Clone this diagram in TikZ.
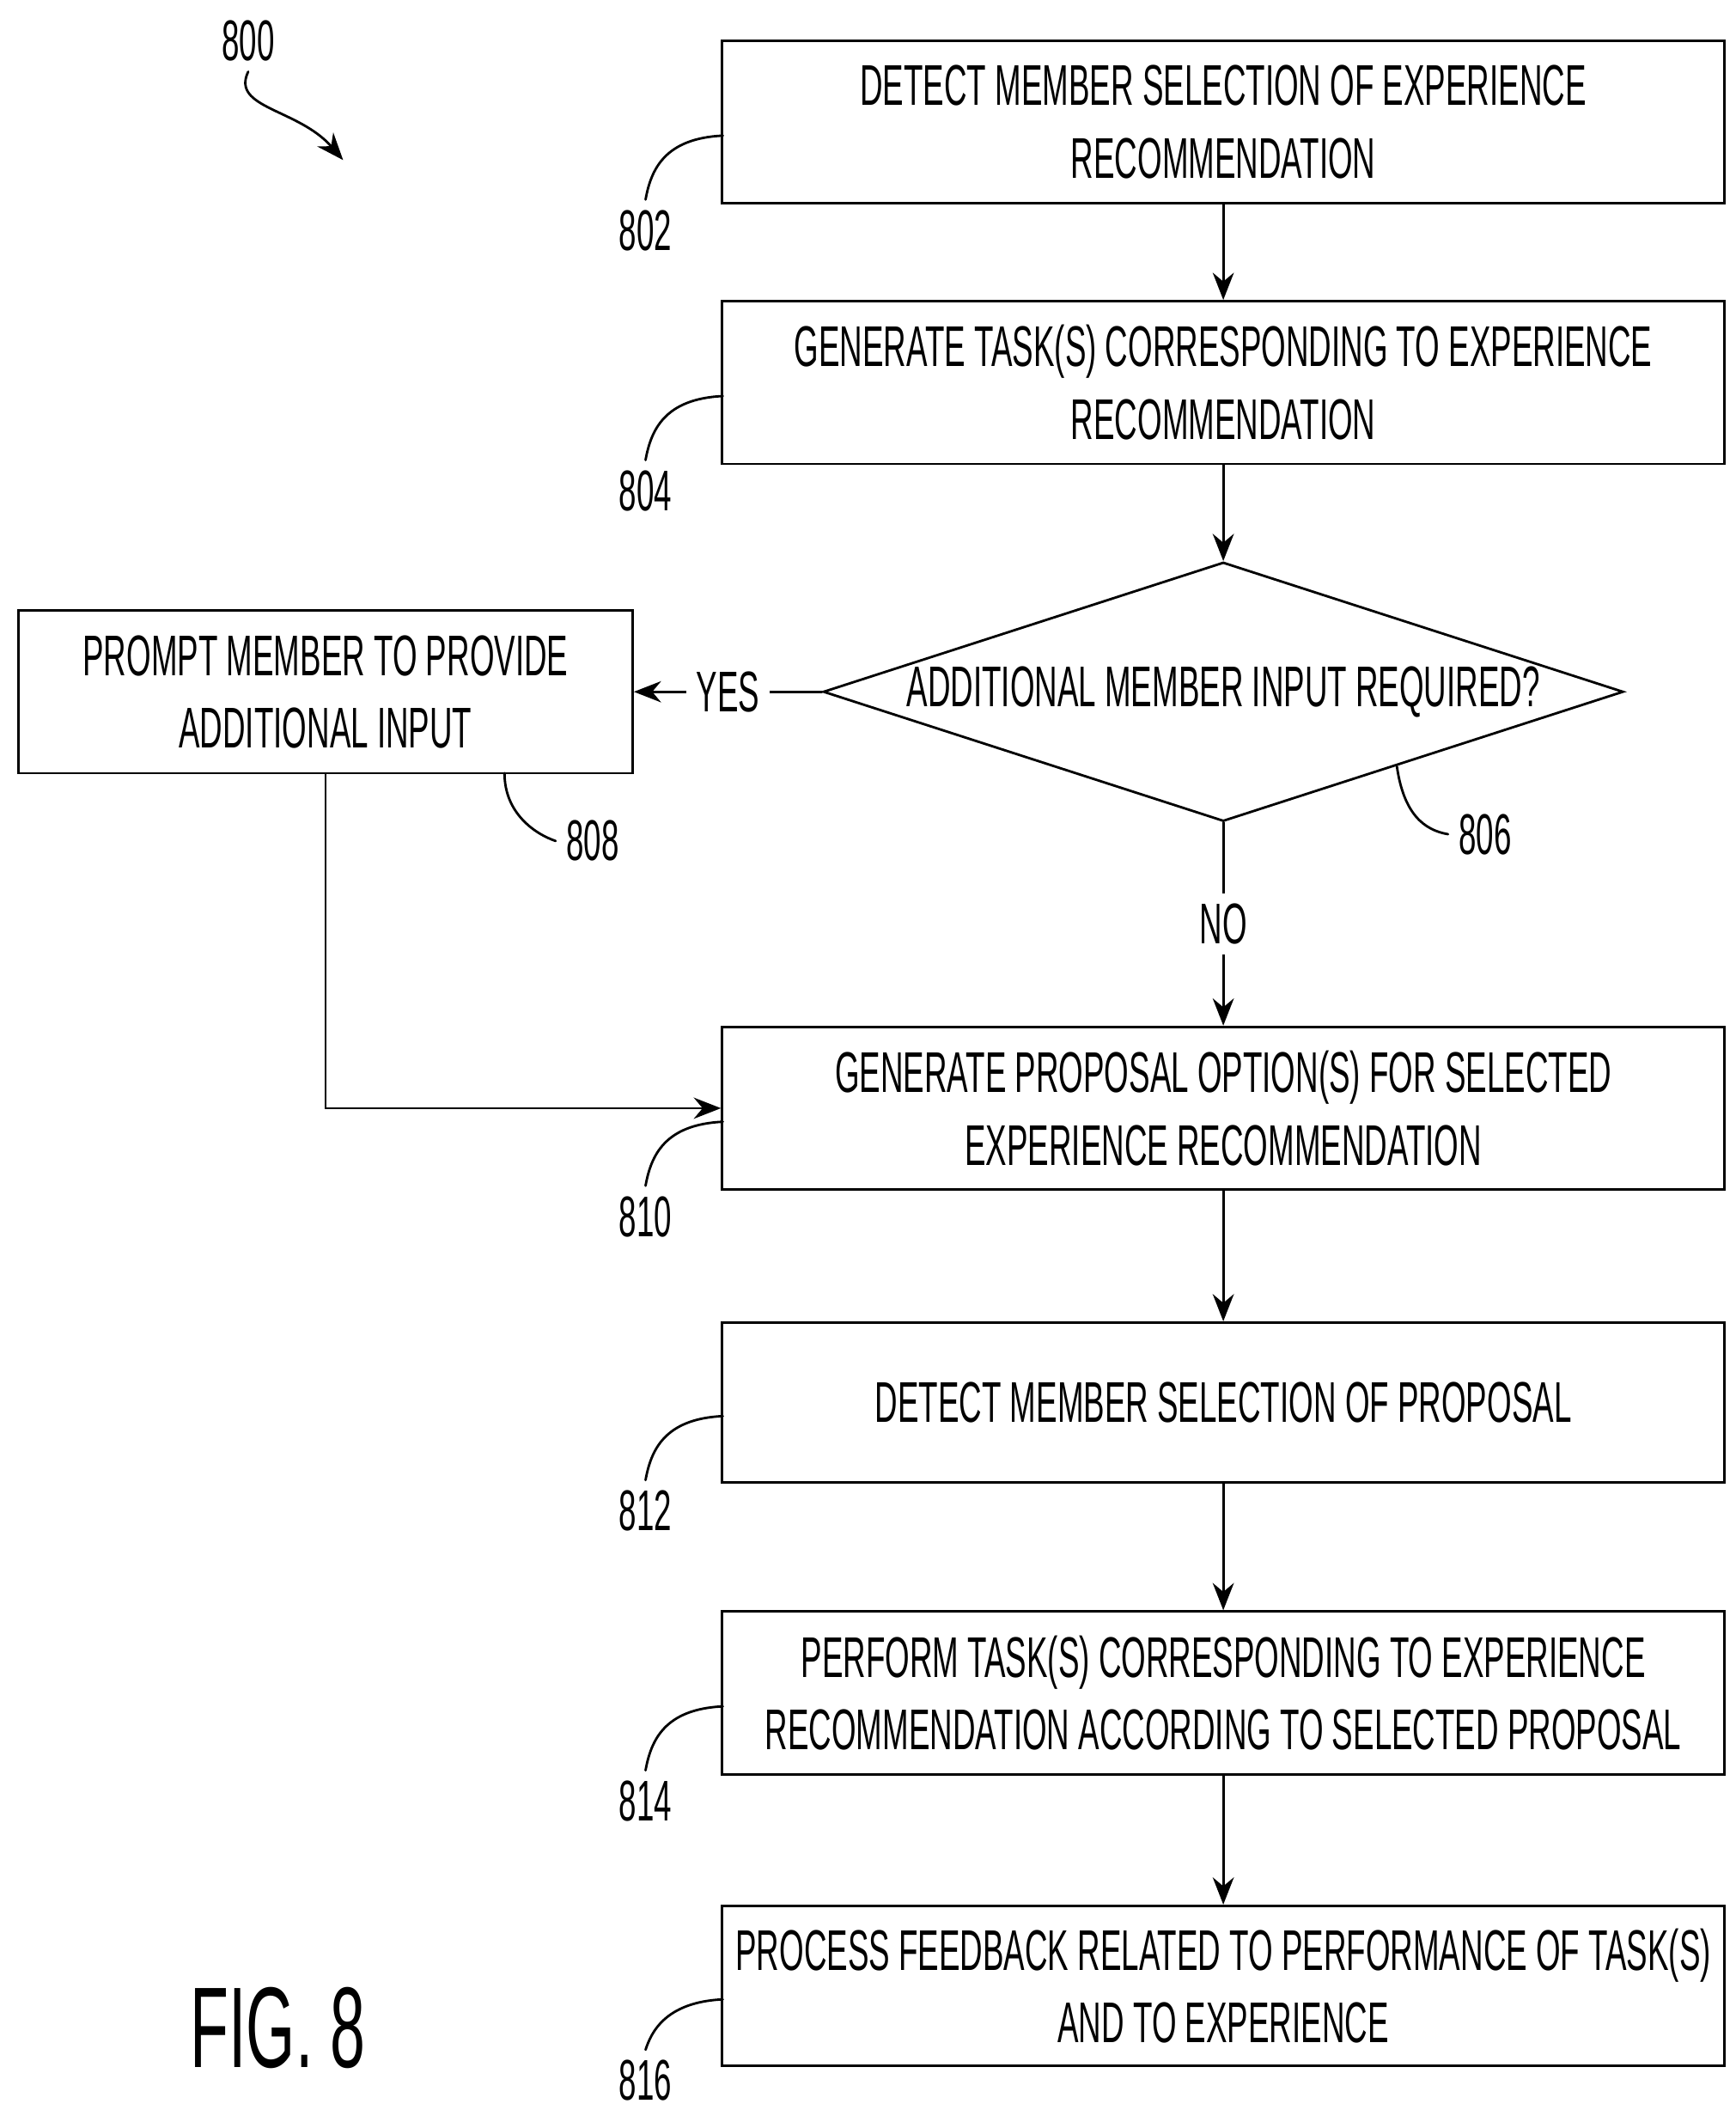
\documentclass[tikz,border=0pt]{standalone}
\usepackage{fontspec}
\setmainfont{Liberation Sans}[FakeStretch=0.55]
\usetikzlibrary{shapes.geometric,arrows.meta}
\begin{document}
\begin{tikzpicture}
		[x=0.01578cm,y=-0.01578cm,line cap=round,
		%Styles
		process/.style={draw,thick,minimum width=739*0.01578cm,minimum height=120*0.01578cm,align=center,font=\fontsize{19}{24}\selectfont,inner sep=0pt},
		decision/.style={draw,thick,diamond,aspect=3.09,minimum width=590*0.01578cm,minimum height=191*0.01578cm,inner sep=0pt,font=\fontsize{19}{24}\selectfont},
		ref/.style={font=\fontsize{19}{22}\selectfont},
		flow/.style={-{Stealth[length=9pt,width=7pt]},thick}
		]
		\useasboundingbox (0,0) rectangle (1280,1560);
		
		%The boxes
		\node[process] (s802) at (902,90) {DETECT MEMBER SELECTION OF EXPERIENCE\\RECOMMENDATION};
		\node[process] (s804) at (902,282) {GENERATE TASK(S) CORRESPONDING TO EXPERIENCE\\RECOMMENDATION};
		\node[decision] (s806) at (902,510) {ADDITIONAL MEMBER INPUT REQUIRED?};
		\node[process,minimum width=453*0.01578cm] (s808) at (240,510) {PROMPT MEMBER TO PROVIDE\\ADDITIONAL INPUT};
		\node[process] (s810) at (902,817) {GENERATE PROPOSAL OPTION(S) FOR SELECTED\\EXPERIENCE RECOMMENDATION};
		\node[process,minimum height=118*0.01578cm] (s812) at (902,1034) {DETECT MEMBER SELECTION OF PROPOSAL};
		\node[process] (s814) at (902,1248) {PERFORM TASK(S) CORRESPONDING TO EXPERIENCE\\RECOMMENDATION ACCORDING TO SELECTED PROPOSAL};
		\node[process,minimum height=118*0.01578cm] (s816) at (902,1464) {PROCESS FEEDBACK RELATED TO PERFORMANCE OF TASK(S)\\AND TO EXPERIENCE};
		
		%Connectors
		\draw[flow] (s802) -- (s804);
		\draw[flow] (s804) -- (s806);
		\draw[flow] (s806) -- node[fill=white,ref]{YES} (s808);
		\draw[flow] (s806) -- node[fill=white,ref,pos=0.5]{NO} (s810);
		\draw[flow] (s808.south) |- (s810.west);
		\draw[flow] (s810) -- (s812);
		\draw[flow] (s812) -- (s814);
		\draw[flow] (s814) -- (s816);
		
		%Reference numerals
		\foreach \n/\y/\d in {802/90/80,804/282/80,810/817/80,812/1034/80,814/1248/80,816/1464/70}
		{
			\node[ref] (l\n) at (476,\y+\d) {\n};
			\draw[thick] (533,\y+10) .. controls (490,\y+12) and (480,\y+35) .. (l\n.north);
		}
		\node[ref] (l808) at (437,620) {808};
		\draw[thick] (372,570) .. controls (372,600) and (395,615) .. (l808.west);
		\node[ref] (l806) at (1095,615) {806};
		\draw[thick] (1030,565) .. controls (1035,600) and (1050,612) .. (l806.west);
		
		\node[ref] (l800) at (183,30) {800};
		\draw[flow] (l800.south) .. controls (170,80) and (220,80) .. (253,118);
		
		\node[font=\fontsize{38}{42}\selectfont] (fig) at (205,1495) {FIG. 8};
	\end{tikzpicture}
\end{document}
